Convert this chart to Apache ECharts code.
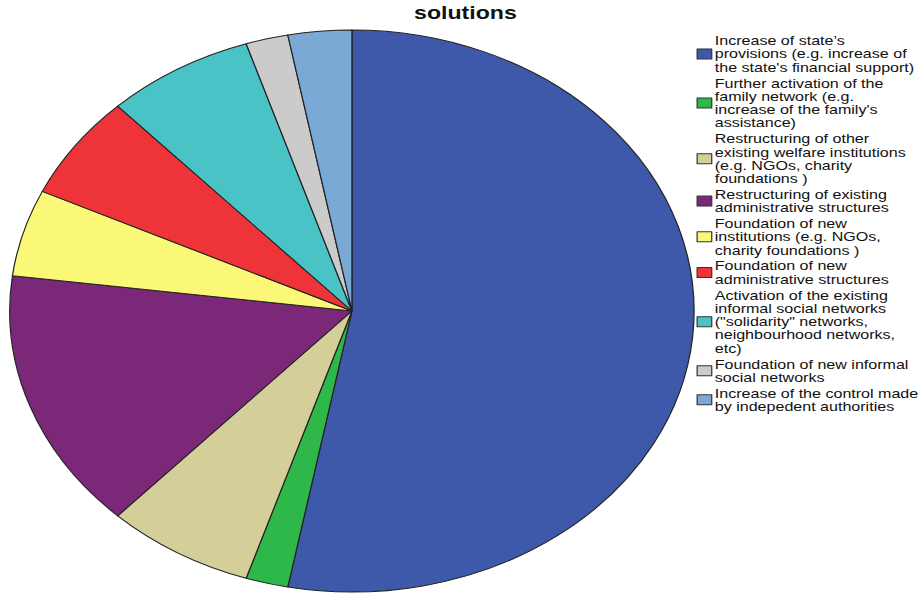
<!DOCTYPE html>
<html>
<head>
<meta charset="utf-8">
<title>solutions</title>
<script src="https://cdn.jsdelivr.net/npm/echarts@6/dist/echarts.min.js"></script>
<style>
  html, body { margin: 0; padding: 0; background: #fff; overflow: hidden; }
  /* The chart is laid out on a narrower canvas and widened, which turns the pie into an ellipse */
  #chart { width: 758px; height: 594px; transform: scaleX(1.2177); transform-origin: 0 0; }
</style>
</head>
<body>
<div id="chart"></div>
<script>
// Answer categories, in clockwise order from the top
const categories = [
  'Increase of state\u2019s\nprovisions (e.g. increase of\nthe state\'s financial support)',
  'Further activation of the\nfamily network (e.g.\nincrease of the family\'s\nassistance)',
  'Restructuring of other\nexisting welfare institutions\n(e.g. NGOs, charity\nfoundations )',
  'Restructuring of existing\nadministrative structures',
  'Foundation of new\ninstitutions (e.g. NGOs,\ncharity foundations )',
  'Foundation of new\nadministrative structures',
  'Activation of the existing\ninformal social networks\n("solidarity" networks,\nneighbourhood networks,\netc)',
  'Foundation of new informal\nsocial networks',
  'Increase of the control made\nby indepedent authorities'
];

// Number of responses per category
const counts = [53, 2, 7, 15, 5, 6, 7, 2, 3];

// Slice colours
const palette = ['#3e58aa', '#2fb84a', '#d4cf98', '#7b2878', '#fbf877', '#ef3439', '#49c3c6', '#cbcbcb', '#79a9d4'];

const chart = echarts.init(document.getElementById('chart'), null, { renderer: 'svg' });

const pieData = categories.map((name, i) => ({ name: name, value: counts[i] }));

chart.setOption({
  animation: false,
  color: palette,
  title: {
    text: 'solutions',
    left: 340,
    top: 3,
    padding: 0,
    textStyle: { fontFamily: 'Liberation Sans, Arial, sans-serif', fontSize: 19, fontWeight: 'bold', color: '#111' }
  },
  legend: {
    orient: 'vertical',
    left: 572,
    top: 34,
    padding: 0,
    itemGap: 2.5,
    itemWidth: 12,
    itemHeight: 10,
    icon: 'rect',
    selectedMode: false,
    itemStyle: { borderColor: '#333', borderWidth: 1 },
    textStyle: {
      fontFamily: 'Liberation Sans, Arial, sans-serif',
      fontSize: 13.2,
      lineHeight: 13.3,
      color: '#111',
      padding: [0, 0, 0, -2.5]
    },
    data: categories
  },
  series: [{
    type: 'pie',
    center: [289, 311],
    radius: 281,
    startAngle: 90,
    clockwise: true,
    silent: true,
    label: { show: false },
    labelLine: { show: false },
    itemStyle: { borderColor: '#222', borderWidth: 1 },
    data: pieData
  }]
});
</script>
</body>
</html>
